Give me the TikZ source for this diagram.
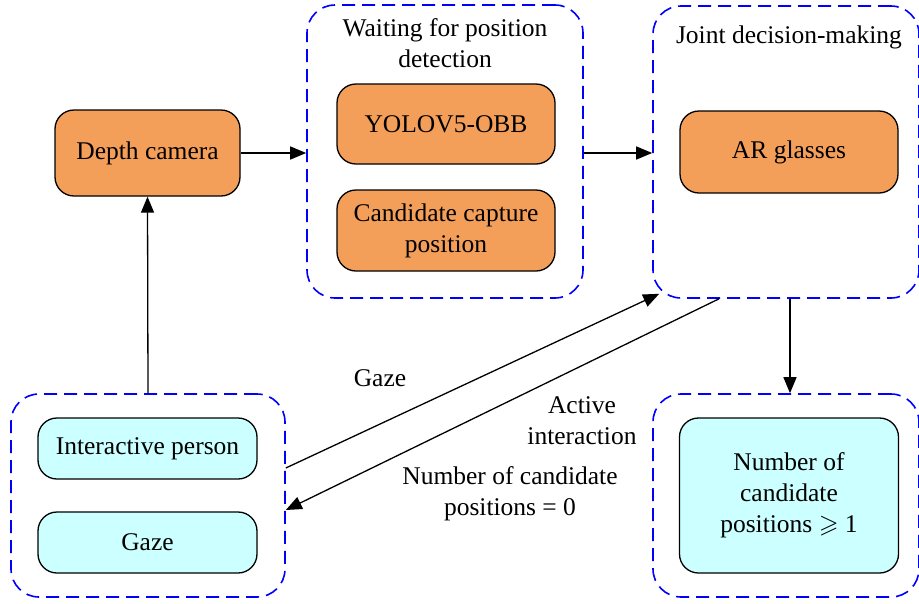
\documentclass[tikz,border=0pt]{standalone}
\usepackage{fontspec}
\usepackage{amssymb}
\setmainfont{Liberation Serif}
\usetikzlibrary{arrows.meta,calc}
\definecolor{boxorange}{HTML}{F49F59}
\definecolor{boxcyan}{HTML}{CCFFFF}
\definecolor{grpblue}{HTML}{0000FF}
\tikzset{
  grp/.style={draw=grpblue, line width=1.6pt, dash pattern=on 13pt off 7pt, rounded corners=28pt, inner sep=0pt},
  obox/.style={draw=black, line width=1.3pt, fill=boxorange, rounded corners=19pt, minimum width=218pt, align=center, inner sep=0pt},
  cbox/.style={draw=black, line width=1.3pt, fill=boxcyan, rounded corners=19pt, minimum width=219pt, align=center, inner sep=0pt},
  conn/.style={draw=black, line width=1.3pt, -{Triangle[length=16pt,width=13pt]}},
  lbl/.style={align=center, inner sep=0pt},
}
\begin{document}
\begin{tikzpicture}[x=1pt,y=-1pt,font=\fontsize{25.5}{31}\selectfont]
\useasboundingbox (0,0) rectangle (919,603);
% groups
\node[grp, minimum width=276pt, minimum height=293pt] (g2) at (445,151.5) {};
\node[grp, minimum width=266pt, minimum height=292pt] (g3) at (786,152) {};
\node[grp, minimum width=266pt, minimum height=203pt] (g4) at (786,495.5) {};
\node[grp, minimum width=274pt, minimum height=203pt] (g1) at (148,495.5) {};
% titles
\node[lbl] (t2) at (445,43) {Waiting for position\\detection};
\node[lbl] (t3) at (789,37) {Joint decision-making};
% boxes
\node[obox, minimum width=185pt, minimum height=86pt] (depth) at (147.5,153) {Depth camera};
\node[obox, minimum height=80pt] (yolo) at (446,124) {YOLOV5-OBB};
\node[obox, minimum height=81pt] (cand) at (446,230.5) {Candidate capture\\position};
\node[obox, minimum height=82pt] (ar) at (789,152) {AR glasses};
\node[cbox, minimum height=155pt] (num) at (789,495.5) {Number of\\candidate\\positions $\geqslant$ 1};
\node[cbox, minimum height=61pt] (person) at (147.5,448.5) {Interactive person};
\node[cbox, minimum height=61pt] (gaze) at (147.5,542.5) {Gaze};
% connectors
\draw[conn] (depth.east) -- (g2.west |- depth.east);
\draw[conn] (g2.east |- depth.east) -- (g3.west |- depth.east);
\draw[conn] (g1.north) -- (depth.south);
\draw[conn] ([xshift=4pt]g3.south) -- ([xshift=4pt]g4.north);
\coordinate (gzs) at ([yshift=27.5pt]g1.east);
\coordinate (gze) at ($(g3.south west)+(7,-5)$);
\draw[conn] (gzs) -- (gze);
\coordinate (ais) at ([xshift=-67pt]g3.south);
\coordinate (aie) at ([yshift=-14.5pt]g1.east);
\draw[conn] (ais) -- (aie);
% labels
\node[lbl] (lgaze) at (380,378) {Gaze};
\node[lbl] (lact) at (582,421) {Active\\interaction};
\node[lbl] (lnum) at (510,494) {Number of candidate\\positions = 0};
\end{tikzpicture}
\end{document}
